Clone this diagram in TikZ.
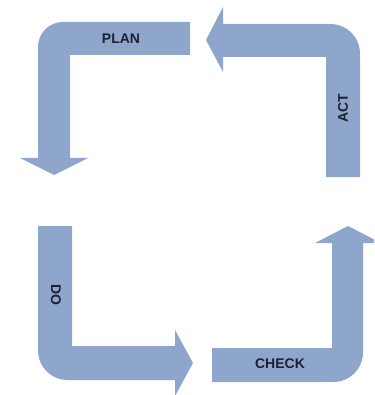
\documentclass[tikz,border=0pt]{standalone}
\usepackage{fontspec}
\setmainfont{Liberation Sans}
\definecolor{arrowblue}{RGB}{143,166,204}
\definecolor{labeltext}{RGB}{28,33,52}
\begin{document}
\begin{tikzpicture}[x=1pt,y=-1pt,
  bigarrow/.style={fill=arrowblue,draw=none},
  steplabel/.style={font=\fontsize{14}{14}\selectfont\bfseries,text=labeltext,inner sep=0pt}]
\useasboundingbox (0,0) rectangle (374,395);
\clip (0,0) rectangle (374,395);
% PLAN
\fill[bigarrow] (190,22) -- (63,22) .. controls (49,22) and (38,33) .. (38,47)
  -- (38,158) -- (20,158) -- (54,175) -- (88,158) -- (70,158) -- (70,55) -- (190,55) -- cycle;
% ACT
\fill[bigarrow] (223,24) -- (330,24) .. controls (347,24) and (360,37) .. (360,54)
  -- (360,177) -- (326,177) -- (326,57) -- (223,57) -- (223,72) -- (206,40) -- (223,7) -- cycle;
% DO
\fill[bigarrow] (38,226) -- (72,226) -- (72,346) -- (175,346) -- (175,330) -- (193,363)
  -- (175,396) -- (175,380) -- (68,380) .. controls (51,380) and (38,367) .. (38,350) -- cycle;
% CHECK
\fill[bigarrow] (212,348) -- (332,348) -- (332,243) -- (315,243) -- (348,226) -- (381,243)
  -- (363,243) -- (363,352) .. controls (363,369) and (350,382) .. (333,382) -- (212,382) -- cycle;
\node[steplabel] (plan) at (121,39) {PLAN};
\node[steplabel,rotate=90] (act) at (343,108) {ACT};
\node[steplabel,rotate=-90] (do) at (56,295) {DO};
\node[steplabel] (check) at (280,364) {CHECK};
\end{tikzpicture}
\end{document}
